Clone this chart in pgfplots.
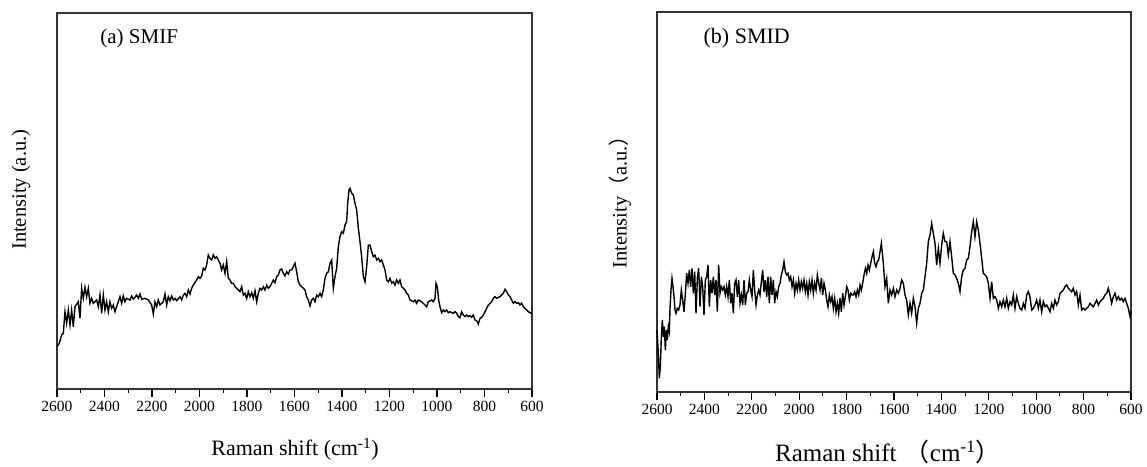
\documentclass[border=0pt]{standalone}
\usepackage{pgfplots}
\pgfplotsset{compat=1.18}
\usepackage{pgfplotstable}
\usepackage{fontspec}
\setmainfont{Liberation Serif}
\newfontfamily\cjk{Noto Sans CJK SC}

\pgfplotstableread{
w v
2600 42.3
2590.2 45.7
2580.4 54
2573.4 55.7
2566.3 77.3
2559.3 65.7
2552.3 79
2545.3 64
2538.3 79
2531.3 62.3
2524.2 82.3
2510.2 87.3
2503.2 70.7
2496.2 100.7
2489.2 90.7
2482.1 101.7
2475.1 92.3
2468.1 100.7
2461.1 85.7
2454.1 90.7
2447.0 85.7
2433.0 89
2426.0 82.3
2419.0 94
2412.0 75.7
2404.9 94
2397.9 79
2390.9 87.3
2383.9 77.3
2376.9 87.3
2369.8 80.7
2362.8 84
2355.8 77.3
2348.8 82.3
2341.8 87.3
2334.8 92.3
2327.7 85.7
2320.7 93
2313.7 87.3
2306.7 90.7
2292.6 89
2285.6 93
2278.6 89.7
2271.6 91.7
2264.6 94
2257.6 90.7
2250.5 95
2243.5 89.7
2229.5 90.7
2215.5 89
2201.4 84
2194.4 75
2187.4 87.3
2180.4 82.3
2173.4 89
2166.3 84
2152.3 87.3
2145.3 95
2138.3 84
2131.3 92.3
2124.2 88.3
2117.2 93
2110.2 89
2103.2 90.7
2096.2 88.3
2082.1 92.3
2075.1 89
2068.1 94
2061.1 95.7
2054.1 92.3
2047.1 99
2040.0 95
2033.0 100.7
2026.0 104
2012.0 109
2004.9 112.3
1997.9 110.7
1990.9 113
1983.9 120.7
1976.9 119
1969.9 124
1962.8 134
1955.8 130.7
1948.8 129
1941.8 134
1934.8 130.7
1927.7 132.3
1920.7 129
1913.7 125.7
1906.7 119
1899.7 124
1892.6 115.7
1885.6 127.3
1878.6 110.7
1871.6 109
1864.6 105.7
1857.6 105.7
1850.5 102.3
1843.5 100.7
1836.5 99
1829.5 97.3
1822.5 102.3
1815.4 94
1808.4 95.7
1801.4 90.7
1794.4 97.3
1787.4 92.3
1780.4 96.3
1773.3 90.7
1766.3 98.3
1759.3 87.3
1752.3 95.7
1745.3 100.7
1738.3 99
1731.2 102.3
1724.2 99
1717.2 104
1710.2 100.7
1703.2 102.3
1696.2 105.7
1689.1 109
1682.1 106.3
1675.1 112.3
1668.1 114
1661.1 119
1654.0 120
1647.0 115.7
1640.0 113
1633.0 117.3
1626.0 115
1619.0 119
1611.9 119
1604.9 122.3
1597.9 125.7
1590.9 117.3
1583.9 107.3
1576.8 104
1569.8 102.3
1562.8 100.7
1555.8 99
1548.8 92.3
1541.8 89
1534.7 83
1527.7 89
1520.7 90.7
1513.7 87.3
1506.7 94
1499.6 92.3
1492.6 95.7
1485.6 92.3
1478.6 99
1471.6 110.7
1464.6 115.7
1457.5 117.3
1450.5 125.7
1443.5 129
1436.5 100.7
1429.5 112.3
1422.4 120.7
1415.4 142.3
1408.4 152.3
1401.4 157.3
1394.4 155.7
1387.3 164
1380.3 167.3
1376.1 185.7
1370.5 199
1366.3 200.7
1359.3 195.7
1352.2 194
1345.2 185.7
1338.2 179
1331.2 160.7
1324.2 147.3
1317.2 132.3
1310.1 112.3
1303.1 107.3
1296.1 122.3
1289.1 144
1282.1 144
1275.1 137.3
1268.0 132.3
1261.0 134
1254.0 129
1247.0 130.7
1240.0 127.3
1232.9 129
1225.9 124
1218.9 119
1211.9 109
1204.9 107.3
1197.9 110.7
1190.8 105.7
1183.8 107.3
1176.8 104
1169.8 109
1162.8 105.7
1155.8 109
1148.7 102.3
1141.7 100.7
1134.7 99
1127.7 95.7
1120.7 94
1113.6 89
1099.6 87.3
1092.6 89
1085.6 85.7
1078.6 89
1064.5 87.3
1050.5 84
1043.5 82.3
1036.5 87.3
1022.4 89
1015.4 87.3
1008.4 90.7
1004.2 105.7
998.6 102.3
993.0 89
987.4 82.3
980.3 76.3
973.3 79
966.3 77.3
959.3 79
952.3 76.3
945.3 77.3
938.2 76.3
931.2 75.7
924.2 77.3
917.2 75.7
910.2 72.3
903.1 71.3
896.1 77.3
889.1 74
882.1 72.3
875.1 74
868.1 72.3
861.0 73.3
854.0 71.7
847.0 74
840.0 69
833.0 68.3
825.9 65
818.9 70.7
811.9 71.7
804.9 74
797.9 77.3
790.8 80.7
783.8 84
776.8 85.7
769.8 87.3
762.8 90.7
755.8 92.3
748.7 90.7
741.7 91.7
734.7 92.3
727.7 94
720.7 95.7
713.6 99.7
706.6 97.3
699.6 94
692.6 92.3
685.6 89
678.6 85.7
671.5 87.3
664.5 85.7
657.5 86.3
650.5 84
643.5 85.7
636.4 82.3
629.4 80.7
622.4 79
615.4 77.3
604.2 75.7
600 75
}\smif

\pgfplotstableread{
w v
2600 62
2594.4 38.7
2590.1 13.7
2585.9 25.3
2581.7 55.3
2577.5 72
2573.3 55.3
2569.0 65.3
2564.8 42
2560.6 62
2556.4 52
2552.2 65.3
2547.9 60.3
2545.1 83.7
2540.9 102
2536.7 113.7
2532.5 105.3
2528.2 95.3
2524.0 82
2519.8 78.7
2514.2 83.7
2508.6 82
2503.0 87
2497.3 102
2491.7 92
2486.1 80.3
2480.4 98.7
2474.8 118.7
2469.2 108.7
2463.5 122
2457.9 105.3
2452.3 123.7
2446.7 98.7
2441.0 120.3
2435.4 78.7
2429.8 113.7
2424.2 123.7
2418.5 85.3
2412.9 115.3
2407.3 105.3
2401.7 77
2396.0 112
2390.4 115.3
2384.8 127
2379.2 85.3
2373.5 112
2367.9 98.7
2362.3 115.3
2356.6 97
2351.0 112
2345.4 80.3
2339.8 127
2334.2 98.7
2328.5 105.3
2322.9 102
2317.3 105.3
2311.6 97
2306.0 105.3
2300.4 95.3
2294.8 112
2289.1 88.7
2283.5 98.7
2277.9 78.7
2272.3 108.7
2266.6 112
2261.0 95.3
2255.4 112
2249.8 88.7
2244.1 97
2238.5 87
2232.9 112
2227.2 87
2221.6 98.7
2216.0 100.3
2210.4 112
2204.7 102
2199.1 95.3
2193.5 122
2187.9 102
2182.2 87
2176.6 97
2171.0 102
2165.4 97
2159.7 110.3
2154.1 122
2148.5 100.3
2142.8 112
2137.2 95.3
2131.6 115.3
2126.0 88.7
2120.3 115.3
2114.7 97
2109.1 112
2103.5 88.7
2097.8 100.3
2092.2 95.3
2086.6 105.3
2081.0 108.7
2075.3 117
2069.7 122
2064.1 130.3
2058.5 120.3
2052.8 117
2047.2 118.7
2041.6 112
2035.9 115.3
2030.3 105.3
2024.7 112
2019.1 98.7
2013.4 108.7
2007.8 102
2002.2 112
1996.6 102
1990.9 110.3
1985.3 103.7
1979.7 112
1974.0 100.3
1968.4 108.7
1962.8 97
1957.2 110.3
1951.5 102
1945.9 112
1940.3 98.7
1934.7 108.7
1929.0 102
1923.4 117
1917.8 108.7
1912.2 102
1906.5 113.7
1900.9 97
1895.3 108.7
1889.6 102
1884.0 92
1878.4 85.3
1872.8 97
1867.1 90.3
1861.5 95.3
1855.9 83.7
1850.3 93.7
1844.6 80.3
1839.0 88.7
1833.4 78.7
1827.8 93.7
1822.1 80.3
1816.5 98.7
1810.9 87
1805.2 95.3
1799.6 105.3
1794.0 102
1788.4 92
1782.7 98.7
1777.1 97
1771.5 97
1765.9 100.3
1760.2 95.3
1754.6 102
1749.0 97
1743.3 107
1737.7 102
1732.1 108.7
1726.5 117
1720.8 123.7
1715.2 118.7
1709.6 127
1704.0 122
1698.3 128.7
1692.7 135.3
1687.1 140.3
1681.5 128.7
1675.8 125.3
1670.2 130.3
1664.6 132
1659.0 140.3
1653.3 148.7
1645.0 128.7
1638.0 105.3
1631.0 113.7
1623.9 88.7
1616.9 102
1609.9 97
1602.8 103.7
1595.8 95.3
1588.8 102
1581.7 98.7
1574.7 103.7
1567.7 112
1560.6 108.7
1553.6 97
1546.6 92
1539.5 77
1532.5 88.7
1525.5 78.7
1518.5 93.7
1511.4 85.3
1504.4 68.7
1497.4 83.7
1490.3 88.7
1483.3 98.7
1476.3 102
1469.2 115.3
1462.2 128.7
1455.2 150.3
1448.1 157
1441.1 168.7
1434.1 158.7
1427.0 148.7
1420.0 127
1413.0 143.7
1405.9 128.7
1398.9 147
1391.9 158.7
1384.8 150.3
1377.8 150.3
1370.8 137
1363.7 150.3
1356.7 135.3
1349.7 118.7
1342.6 117
1335.6 113.7
1328.6 108.7
1321.5 100.3
1314.5 115.3
1307.5 122
1300.4 123.7
1293.4 132
1286.4 133.7
1279.3 145.3
1272.3 160.3
1265.3 170.3
1258.2 155.3
1251.2 170.3
1244.2 162
1237.1 148.7
1230.1 133.7
1223.1 118.7
1216.0 117
1209.0 115.3
1202.0 108.7
1194.9 93.7
1187.9 110.3
1180.9 93.7
1173.9 95.3
1166.8 92
1159.8 83.7
1152.8 90.3
1145.7 85.3
1138.7 92
1131.7 85.3
1124.6 93.7
1117.6 83.7
1110.6 90.3
1103.5 87
1096.5 97
1089.5 83.7
1082.4 95.3
1075.4 88.7
1068.4 83.7
1061.3 82
1054.3 88.7
1047.3 83.7
1040.2 97
1033.2 100.3
1026.2 95.3
1019.1 82
1012.1 83.7
1005.1 87
998.0 92
991.0 83.7
984.0 92
976.9 80.3
969.9 90.3
962.9 85.3
955.9 87
948.8 83.7
941.8 80.3
934.8 88.7
927.7 83.7
920.7 92
913.7 87
906.6 90.3
899.6 98.7
892.6 100.3
885.5 102
878.5 105.3
871.5 107
864.4 103.7
857.4 102
850.4 100.3
843.3 103.7
836.3 97
829.3 100.3
822.2 87
815.2 97
808.2 82
801.1 83.7
794.1 82
787.1 83.7
780.0 85.3
773.0 88.7
766.0 87
758.9 85.3
751.9 88.7
744.9 92
737.8 87
730.8 90.3
723.8 92
716.7 93.7
709.7 97
702.7 98.7
695.6 103.7
688.6 97
681.6 88.7
674.5 95.3
667.5 98.7
660.5 92
653.4 95.3
646.4 92
639.4 93.7
632.3 90.3
625.3 93.7
618.3 88.7
611.2 83.7
604.2 75.3
600 80.3
}\smid

\pgfplotsset{
  ramanax/.style={
    anchor=south west, scale only axis,
    xmin=600, xmax=2600, x dir=reverse,
    ymin=0, ytick=\empty,
    xtick={600,800,...,2600}, minor x tick num=1,
    tick align=outside, xtick pos=bottom,
    major tick length=8pt, minor tick length=4pt,
    axis line style={line width=1.2pt, black!80},
    every tick/.style={line width=1.1pt, black},
    /pgf/number format/1000 sep={},
    /pgf/number format/assume math mode=true,
    xticklabel style={font=\fontsize{15.5}{18}\selectfont, yshift=-1pt},
    clip=false,
  }
}

\begin{document}
\begin{tikzpicture}[x=1pt,y=1pt]
\useasboundingbox (0,0) rectangle (1147,466);
\begin{axis}[ramanax, at={(57pt,77pt)}, width=475pt, height=376pt, ymax=376,
  xlabel={Raman shift (cm\textsuperscript{-1})},
  xlabel style={at={(axis description cs:0.501,-0.178)}, anchor=base, font=\fontsize{22}{26}\selectfont},
  ylabel={Intensity (a.u.)},
  ylabel style={at={(axis description cs:-0.076,0.53)}, anchor=center, font=\fontsize{20.5}{24}\selectfont},
]
\addplot[black, line width=1.4pt] table[x=w, y=v] {\smif};
\node[anchor=base west, font=\fontsize{21}{25}\selectfont] at (axis description cs:0.084,0.9176) {(a) SMIF};
\end{axis}
\begin{axis}[ramanax, at={(657pt,74pt)}, width=474pt, height=380pt, ymax=380,
  xlabel={Raman shift\,\,{\cjk （}cm\textsuperscript{-1}{\cjk ）}},
  xlabel style={at={(axis description cs:0.487,-0.184)}, anchor=base, font=\fontsize{25}{30}\selectfont},
  ylabel={Intensity{\cjk （}a.u.{\cjk ）}},
  ylabel style={at={(axis description cs:-0.078,0.513)}, anchor=center, font=\fontsize{20.5}{24}\selectfont},
]
\addplot[black, line width=1.4pt] table[x=w, y=v] {\smid};
\node[anchor=base west, font=\fontsize{22}{26}\selectfont] at (axis description cs:0.091,0.918) {(b) SMID};
\end{axis}
\end{tikzpicture}
\end{document}
